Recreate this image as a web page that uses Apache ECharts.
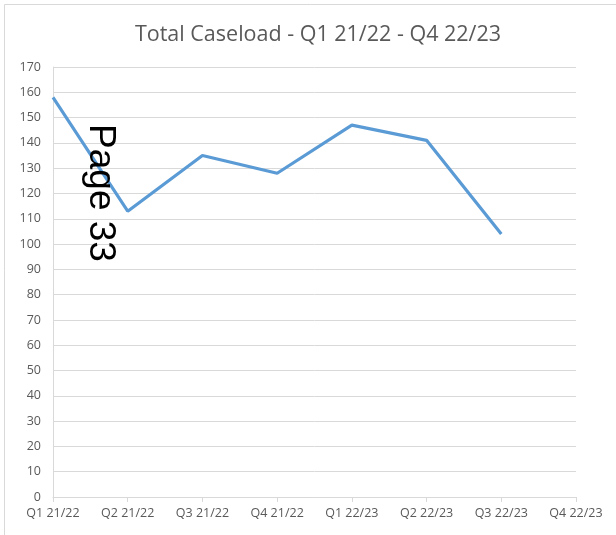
<!DOCTYPE html>
<html>
<head>
<meta charset="utf-8">
<script src="https://cdn.jsdelivr.net/npm/echarts@6/dist/echarts.min.js"></script>
<style>
  html, body { margin: 0; padding: 0; background: #fff; }
  #chart { width: 616px; height: 535px; }
</style>
</head>
<body>
<div id="chart"></div>
<script>
// quarters on the x axis
const quarters = ['Q1 21/22', 'Q2 21/22', 'Q3 21/22', 'Q4 21/22', 'Q1 22/23', 'Q2 22/23', 'Q3 22/23', 'Q4 22/23'];
// total caseload per quarter (Q4 22/23 not reported yet)
const caseload = [158, 113, 135, 128, 147, 141, 104, null];

const chart = echarts.init(document.getElementById('chart'));

const option = {
  backgroundColor: '#fff',
  textStyle: { fontFamily: '"Open Sans", sans-serif' },
  title: {
    text: 'Total Caseload - Q1 21/22 - Q4 22/23',
    left: 313,
    textAlign: 'center',
    top: 19,
    textStyle: { color: '#595959', fontSize: 21.5, fontWeight: 'normal', fontFamily: '"Open Sans", sans-serif' }
  },
  grid: { left: 53, right: 40, top: 67, bottom: 38 },
  xAxis: {
    type: 'category',
    data: quarters,
    boundaryGap: false,
    axisLine: { lineStyle: { color: '#d9d9d9' } },
    axisTick: { show: true, alignWithLabel: true, length: 5, lineStyle: { color: '#d9d9d9' } },
    axisLabel: { color: '#595959', fontSize: 12.5, margin: 10, interval: 0 },
    splitLine: { show: false }
  },
  yAxis: {
    type: 'value',
    min: 0,
    max: 170,
    interval: 10,
    axisLine: { show: true, lineStyle: { color: '#d9d9d9' } },
    axisTick: { show: false },
    axisLabel: { color: '#595959', fontSize: 12.5, margin: 12 },
    splitLine: { lineStyle: { color: '#d9d9d9' } }
  },
  series: [{
    type: 'line',
    data: caseload,
    showSymbol: false,
    lineStyle: { color: '#5B9BD5', width: 3.2 },
    itemStyle: { color: '#5B9BD5' }
  }],
  graphic: [
    {
      type: 'rect',
      shape: { x: 4.5, y: 4.5, width: 640, height: 540 },
      style: { fill: 'none', stroke: '#d9d9d9', lineWidth: 1 },
      silent: true
    },
    {
      type: 'text',
      x: 100,
      y: 193,
      rotation: -Math.PI / 2,
      style: {
        text: 'Page 33',
        fill: '#000',
        fontSize: 37,
        fontFamily: '"Liberation Sans", Arial, sans-serif',
        align: 'center',
        verticalAlign: 'middle'
      },
      z: 100
    }
  ]
};

chart.setOption(option);
</script>
</body>
</html>
